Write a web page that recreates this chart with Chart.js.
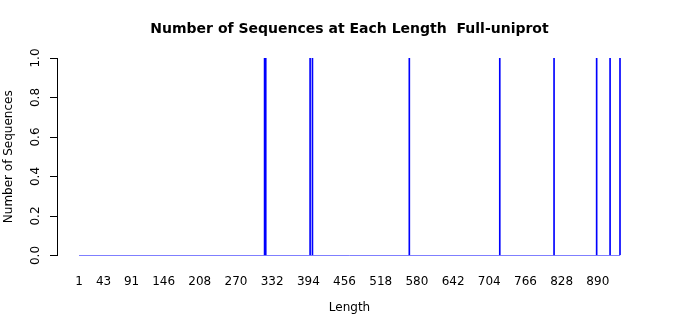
<!DOCTYPE html>
<html>
<head>
<meta charset="utf-8">
<script src="https://cdn.jsdelivr.net/npm/chart.js@4"></script>
<style>
html,body{margin:0;padding:0;background:#fff;}
canvas{display:block;}
</style>
</head>
<body>
<canvas id="c" width="700" height="315"></canvas>
<script>
const lengths = [319, 321, 397, 401, 567, 722, 815, 888, 911, 928];
const counts  = [1, 1, 1, 1, 1, 1, 1, 1, 1, 1];
const lengthRange = [1, 928];
const xTickLabels = [1, 43, 91, 146, 208, 270, 332, 394, 456, 518, 580, 642, 704, 766, 828, 890];
const yTickValues = [0, 0.2, 0.4, 0.6, 0.8, 1.0];
const yTickLabels = ['0.0', '0.2', '0.4', '0.6', '0.8', '1.0'];

Chart.defaults.font.family = "'DejaVu Sans', sans-serif";
Chart.defaults.color = '#000';

const barData = lengths.map((l, i) => ({x: l, y: counts[i]}));
const baseData = lengthRange.map(l => ({x: l, y: 0}));

const yLabelPlugin = {
  id: 'yLabels',
  afterDraw(chart) {
    const ys = chart.scales.y;
    const ctx = chart.ctx;
    ctx.save();
    ctx.font = "12px 'DejaVu Sans'";
    ctx.fillStyle = '#000';
    ctx.textAlign = 'center';
    ctx.textBaseline = 'middle';
    yTickValues.forEach((v, i) => {
      const py = ys.getPixelForValue(v);
      ctx.save();
      ctx.translate(36, py);
      ctx.rotate(-Math.PI / 2);
      ctx.fillText(yTickLabels[i], 0, 0);
      ctx.restore();
    });
    ctx.restore();
  }
};

new Chart(document.getElementById('c'), {
  type: 'bar',
  data: {
    datasets: [
      {
        type: 'line',
        data: baseData,
        borderColor: '#0000ff',
        borderWidth: 1,
        pointRadius: 0,
        fill: false,
        order: 2
      },
      {
        type: 'bar',
        data: barData,
        backgroundColor: '#0000ff',
        borderWidth: 0,
        barThickness: 1,
        order: 1
      }
    ]
  },
  options: {
    responsive: false,
    animation: false,
    devicePixelRatio: 1,
    layout: {padding: {left: 0, right: 58, top: 0, bottom: 0}},
    plugins: {
      legend: {display: false},
      tooltip: {enabled: false},
      title: {
        display: true,
        fullSize: false,
        text: 'Number of Sequences at Each Length  Full-uniprot',
        font: {size: 14, weight: 'bold'},
        color: '#000',
        padding: {top: 20.5, bottom: 20.7}
      }
    },
    scales: {
      x: {
        type: 'linear',
        offset: false,
        min: -36.7,
        max: 965.7,
        grid: {display: false},
        border: {display: false},
        afterBuildTicks: s => { s.ticks = xTickLabels.map(v => ({value: v})); },
        afterFit: s => { s.height = 59.5; },
        ticks: {autoSkip: false, maxRotation: 0, minRotation: 0, padding: 11, font: {size: 12}, color: '#000'},
        title: {display: true, text: 'Length', font: {size: 12}, color: '#000', padding: {top: 0, bottom: 0}}
      },
      y: {
        min: 0,
        max: 1,
        afterBuildTicks: s => { s.ticks = yTickValues.map(v => ({value: v})); },
        afterFit: s => { s.width = 57; },
        grid: {display: true, drawOnChartArea: false, drawTicks: true, tickLength: 7, color: '#000'},
        border: {display: true, color: '#000'},
        ticks: {display: false},
        title: {display: true, text: 'Number of Sequences', font: {size: 12}, color: '#000', padding: {top: 2, bottom: 0}}
      }
    }
  },
  plugins: [yLabelPlugin]
});
</script>
</body>
</html>
